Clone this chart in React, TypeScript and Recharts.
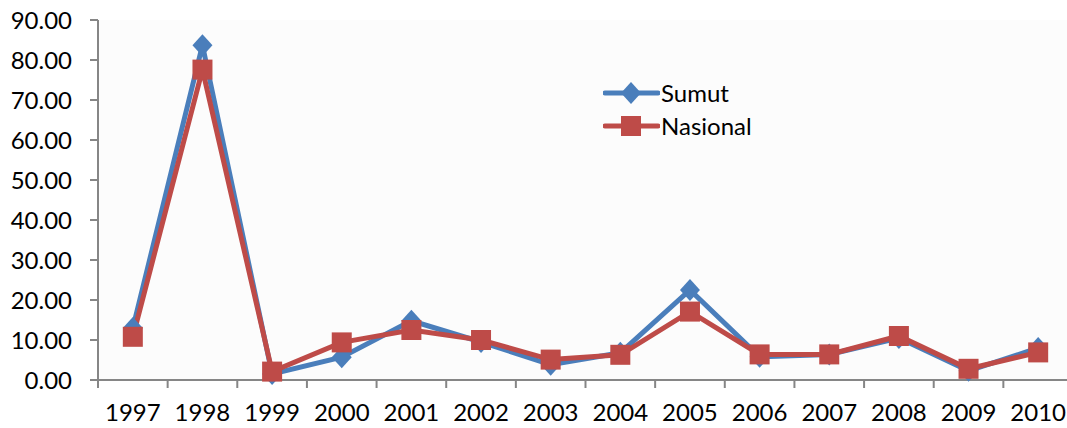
import React from "react";
import { LineChart, Line, XAxis, YAxis, CartesianGrid } from "recharts";

const years = ["1997", "1998", "1999", "2000", "2001", "2002", "2003", "2004", "2005", "2006", "2007", "2008", "2009", "2010"];
const sumut = [13.0, 83.7, 1.5, 5.7, 14.8, 9.5, 3.8, 6.8, 22.5, 5.8, 6.4, 10.5, 2.3, 8.0];
const nasional = [10.8, 77.6, 2.1, 9.4, 12.5, 10.0, 5.1, 6.3, 17.1, 6.4, 6.4, 11.0, 2.8, 6.9];
const yTicks = [0, 10, 20, 30, 40, 50, 60, 70, 80, 90];

const data = years.map((y, i) => ({ year: y, Sumut: sumut[i], Nasional: nasional[i] }));

const BLUE = "#4A7EBB";
const RED = "#BE4B48";
const AXIS = "#868686";
const FONT = "Lato, 'Open Sans', sans-serif";
const FS = 24;

const CHART_W = 1080;
const CHART_H = 428;
const LEFT = 98;
const RIGHT_MARGIN = 7;
const bandWidth = (CHART_W - LEFT - RIGHT_MARGIN) / years.length;

const Diamond = (props: any) => {
  const { cx, cy } = props;
  if (cx == null || cy == null) return null;
  return <polygon points={`${cx},${cy - 11} ${cx + 10},${cy} ${cx},${cy + 11} ${cx - 10},${cy}`} fill={BLUE} />;
};

const Square = (props: any) => {
  const { cx, cy } = props;
  if (cx == null || cy == null) return null;
  return <rect x={cx - 10} y={cy - 10} width={20} height={20} fill={RED} />;
};

const XTick = (props: any) => {
  const { x, y, payload, index } = props;
  const axisY = y - 22;
  const left = x - bandWidth / 2;
  return (
    <g>
      <line x1={left} y1={axisY} x2={left} y2={axisY + 8} stroke={AXIS} strokeWidth={2} />
      {index === years.length - 1 && (
        <line x1={x + bandWidth / 2} y1={axisY} x2={x + bandWidth / 2} y2={axisY + 8} stroke={AXIS} strokeWidth={2} />
      )}
      <text x={x} y={y} dy={19} textAnchor="middle" fill="#000" fontSize={FS} fontFamily={FONT}>
        {payload.value}
      </text>
    </g>
  );
};

const legendItems = [
  { name: "Sumut", color: BLUE, shape: "diamond" },
  { name: "Nasional", color: RED, shape: "square" },
];

const LegendBox = () => (
  <div style={{ position: "absolute", left: 603, top: 76, fontFamily: FONT, fontSize: FS, lineHeight: "33px" }}>
    {legendItems.map((it) => (
      <div key={it.name} style={{ display: "flex", alignItems: "center", height: 33 }}>
        <svg width={57} height={24}>
          <line x1={2} y1={12} x2={55} y2={12} stroke={it.color} strokeWidth={5} strokeLinecap="round" />
          {it.shape === "diamond" ? (
            <polygon points="28,1 38,12 28,23 18,12" fill={it.color} />
          ) : (
            <rect x={18} y={2} width={20} height={20} fill={it.color} />
          )}
        </svg>
        <span style={{ color: "#000", marginLeft: 1 }}>{it.name}</span>
      </div>
    ))}
  </div>
);

export default function App() {
  return (
    <div style={{ position: "fixed", left: 0, top: 0, width: 1067, height: 428, overflow: "hidden", background: "#fff" }}>
      <LineChart width={CHART_W} height={CHART_H} data={data} margin={{ top: 20, right: RIGHT_MARGIN, left: 0, bottom: 8 }}>
        <CartesianGrid horizontal={false} vertical={false} fill="#fcfcfc" stroke="none" />
        <XAxis
          dataKey="year"
          scale="band"
          height={40}
          tickLine={false}
          axisLine={{ stroke: AXIS, strokeWidth: 2 }}
          tick={<XTick />}
          tickSize={8}
          tickMargin={14}
          interval={0}
        />
        <YAxis
          width={LEFT}
          domain={[0, 90]}
          ticks={yTicks}
          interval={0}
          tickFormatter={(v: number) => v.toFixed(2)}
          tick={{ fill: "#000", fontSize: FS, fontFamily: FONT }}
          axisLine={{ stroke: AXIS, strokeWidth: 2 }}
          tickLine={{ stroke: AXIS, strokeWidth: 2 }}
          tickSize={8}
          tickMargin={18}
        />
        <Line dataKey="Sumut" stroke={BLUE} strokeWidth={5} dot={<Diamond />} activeDot={false} isAnimationActive={false} />
        <Line dataKey="Nasional" stroke={RED} strokeWidth={5} dot={<Square />} activeDot={false} isAnimationActive={false} />
      </LineChart>
      <LegendBox />
    </div>
  );
}
